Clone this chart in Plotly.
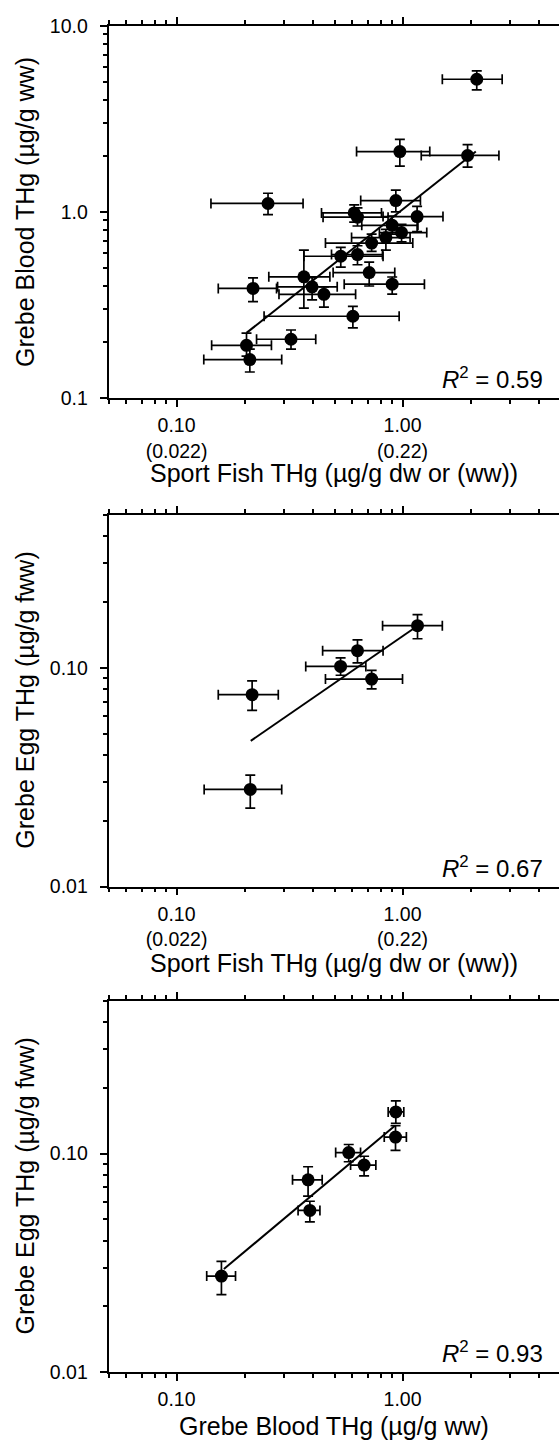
import numpy as np
import plotly.graph_objects as go

# ---------------- data ----------------
# Panel 1: Sport fish THg (x) vs grebe blood THg (y)
p1_x = [2.13, 0.973, 1.94, 0.254, 0.934, 0.611, 0.632, 1.16, 0.90, 0.99, 0.844, 0.73,
        0.533, 0.632, 0.712, 0.90, 0.366, 0.398, 0.449, 0.218, 0.603, 0.321, 0.204, 0.211]
p1_x_lo = [1.50, 0.626, 1.21, 0.142, 0.653, 0.438, 0.445, 0.82, 0.66, 0.79, 0.595, 0.456,
           0.366, 0.485, 0.493, 0.552, 0.256, 0.28, 0.284, 0.153, 0.244, 0.226, 0.143, 0.132]
p1_x_hi = [2.76, 1.32, 2.67, 0.363, 1.20, 0.807, 0.863, 1.51, 1.17, 1.28, 1.08, 1.11,
           0.82, 0.815, 0.924, 1.25, 0.477, 0.514, 0.62, 0.277, 0.966, 0.413, 0.263, 0.292]
p1_y = [5.16, 2.11, 2.01, 1.11, 1.15, 0.988, 0.937, 0.944, 0.847, 0.774, 0.728, 0.68,
        0.578, 0.59, 0.472, 0.409, 0.448, 0.396, 0.361, 0.388, 0.275, 0.207, 0.192, 0.161]
p1_y_lo = [4.53, 1.76, 1.74, 0.968, 1.0, 0.882, 0.84, 0.784, 0.76, 0.69, 0.624, 0.614,
           0.505, 0.52, 0.40, 0.362, 0.304, 0.337, 0.308, 0.33, 0.238, 0.183, 0.168, 0.138]
p1_y_hi = [5.73, 2.45, 2.30, 1.26, 1.31, 1.09, 1.05, 1.07, 0.95, 0.857, 0.806, 0.76,
           0.645, 0.658, 0.537, 0.447, 0.624, 0.444, 0.396, 0.442, 0.311, 0.232, 0.223, 0.183]
p1_fit_x = [0.204, 2.11]
p1_fit_y = [0.224, 2.11]
p1_r2 = "0.59"

# Panel 2: Sport fish THg (x) vs grebe egg THg (y)
p2_x = [1.165, 0.632, 0.532, 0.73, 0.216, 0.212]
p2_x_lo = [0.816, 0.443, 0.373, 0.456, 0.153, 0.1325]
p2_x_hi = [1.50, 0.82, 0.688, 1.0, 0.282, 0.292]
p2_y = [0.1557, 0.1197, 0.1014, 0.0887, 0.0753, 0.0278]
p2_y_lo = [0.1356, 0.1053, 0.0924, 0.080, 0.0638, 0.0228]
p2_y_hi = [0.175, 0.134, 0.1109, 0.0973, 0.0871, 0.0323]
p2_fit_x = [0.213, 1.125]
p2_fit_y = [0.0463, 0.1514]
p2_r2 = "0.67"

# Panel 3: Grebe blood THg (x) vs grebe egg THg (y)
p3_x = [0.934, 0.931, 0.578, 0.676, 0.382, 0.389, 0.158]
p3_x_lo = [0.864, 0.83, 0.506, 0.589, 0.326, 0.345, 0.136]
p3_x_hi = [1.013, 1.04, 0.652, 0.762, 0.441, 0.431, 0.1824]
p3_y = [0.155, 0.119, 0.101, 0.0886, 0.0758, 0.0549, 0.0275]
p3_y_lo = [0.1375, 0.1035, 0.0917, 0.079, 0.0638, 0.0487, 0.0226]
p3_y_hi = [0.174, 0.134, 0.110, 0.0972, 0.087, 0.0605, 0.0321]
p3_fit_x = [0.162, 0.925]
p3_fit_y = [0.0296, 0.134]
p3_r2 = "0.93"

# axis labels
x_tickvals = [0.1, 1.0]
x_ticktext_fish = ["0.10<br>(0.022)", "1.00<br>(0.22)"]
x_ticktext_blood = ["0.10", "1.00"]
y1_tickvals = [0.1, 1.0, 10.0]
y1_ticktext = ["0.1", "1.0", "10.0"]
y23_tickvals = [0.01, 0.1]
y23_ticktext = ["0.01", "0.10"]
x_title_fish = "Sport Fish THg (µg/g dw or (ww))"
x_title_blood = "Grebe Blood THg (µg/g ww)"
y_title_blood = "Grebe Blood THg (µg/g ww)"
y_title_egg = "Grebe Egg THg (µg/g fww)"

# ---------------- layout geometry ----------------
W, H = 559, 1454
FONT = "Arial, 'Liberation Sans', sans-serif"
TICK_SIZE = 19.5
TITLE_SIZE = 25
x_left = 108.5
px_per_decade_x = 226.0
x_range = [np.log10(0.05), np.log10(0.05) + (W - x_left) / px_per_decade_x]
panels_px = [(15, 393), (511.5, 889), (1005, 1382)]
x_title_y_px = [469, 967, 1437]
y_title_x_px = 25


def ydom(top, bot):
    return [1 - bot / H, 1 - top / H]


def minor_vals(lo_exp, hi_exp):
    vals = []
    for e in range(lo_exp, hi_exp + 1):
        for d in range(2, 10):
            vals.append(d * 10.0 ** e)
    return vals


AX_COMMON = dict(
    type="log", showgrid=False, zeroline=False, showline=True, linecolor="black",
    linewidth=1.7, ticks="outside", ticklen=7, tickwidth=1.5, tickcolor="black",
    tickfont=dict(family=FONT, size=TICK_SIZE, color="black"), tickmode="array",
)

fig = go.Figure()

panels = [
    (p1_x, p1_x_lo, p1_x_hi, p1_y, p1_y_lo, p1_y_hi, p1_fit_x, p1_fit_y, p1_r2),
    (p2_x, p2_x_lo, p2_x_hi, p2_y, p2_y_lo, p2_y_hi, p2_fit_x, p2_fit_y, p2_r2),
    (p3_x, p3_x_lo, p3_x_hi, p3_y, p3_y_lo, p3_y_hi, p3_fit_x, p3_fit_y, p3_r2),
]

for i, (x, xlo, xhi, y, ylo, yhi, fx, fy, r2) in enumerate(panels):
    n = "" if i == 0 else str(i + 1)
    xa, ya = "x" + n, "y" + n
    fig.add_trace(go.Scatter(
        x=fx, y=fy, mode="lines", line=dict(color="black", width=2),
        xaxis=xa, yaxis=ya, showlegend=False, hoverinfo="skip"))
    fig.add_trace(go.Scatter(
        x=x, y=y, mode="markers",
        marker=dict(color="black", size=13, line=dict(width=0)),
        error_x=dict(type="data", symmetric=False,
                     array=[h - v for h, v in zip(xhi, x)],
                     arrayminus=[v - l for v, l in zip(x, xlo)],
                     color="black", thickness=1.7, width=5),
        error_y=dict(type="data", symmetric=False,
                     array=[h - v for h, v in zip(yhi, y)],
                     arrayminus=[v - l for v, l in zip(y, ylo)],
                     color="black", thickness=1.7, width=5),
        xaxis=xa, yaxis=ya, showlegend=False))
    top, bot = panels_px[i]
    fig.add_annotation(
        text="<i>R</i><sup>2</sup> = " + r2, xref="paper", yref="paper",
        x=545 / W, y=1 - (bot - 20) / H, xanchor="right", yanchor="middle",
        showarrow=False, font=dict(family=FONT, size=24, color="black"))

minor_x = dict(ticks="outside", ticklen=4, tickwidth=1.5, tickcolor="black",
               tickmode="array", tickvals=minor_vals(-2, 0))
minor_y = dict(ticks="outside", ticklen=4, tickwidth=1.5, tickcolor="black",
               tickmode="array", tickvals=minor_vals(-2, 1))

layout = dict(
    width=W, height=H, margin=dict(l=0, r=0, t=0, b=0),
    paper_bgcolor="white", plot_bgcolor="white", showlegend=False,
    font=dict(family=FONT, color="black"),
)

x_titles = [x_title_fish, x_title_fish, x_title_blood]
x_ticktexts = [x_ticktext_fish, x_ticktext_fish, x_ticktext_blood]
y_titles = [y_title_blood, y_title_egg, y_title_egg]
y_ranges = [[-1, 1], [-2, np.log10(0.5)], [-2, np.log10(0.5)]]
y_tvs = [y1_tickvals, y23_tickvals, y23_tickvals]
y_tts = [y1_ticktext, y23_ticktext, y23_ticktext]

for i in range(3):
    n = "" if i == 0 else str(i + 1)
    top, bot = panels_px[i]
    layout["xaxis" + n] = dict(
        AX_COMMON, domain=[x_left / W, 1], range=x_range, anchor="y" + n,
        mirror="ticks", tickvals=x_tickvals, ticktext=x_ticktexts[i],
        ticklabelstandoff=2, minor=minor_x,
    )
    layout["yaxis" + n] = dict(
        AX_COMMON, domain=ydom(top, bot), range=y_ranges[i], anchor="x" + n,
        mirror=False, tickvals=y_tvs[i], ticktext=y_tts[i], ticklabelstandoff=8,
        minor=minor_y,
    )
    # axis titles
    fig.add_annotation(
        text=x_titles[i], xref="paper", yref="paper",
        x=(x_left + W) / 2 / W, y=1 - x_title_y_px[i] / H,
        xanchor="center", yanchor="middle", showarrow=False,
        font=dict(family=FONT, size=TITLE_SIZE, color="black"))
    fig.add_annotation(
        text=y_titles[i], xref="paper", yref="paper", textangle=-90,
        x=y_title_x_px / W, y=1 - (top + bot) / 2 / H,
        xanchor="center", yanchor="middle", showarrow=False,
        font=dict(family=FONT, size=TITLE_SIZE, color="black"))

fig.update_layout(**layout)
fig.write_html("out.html", config={"displayModeBar": False})
